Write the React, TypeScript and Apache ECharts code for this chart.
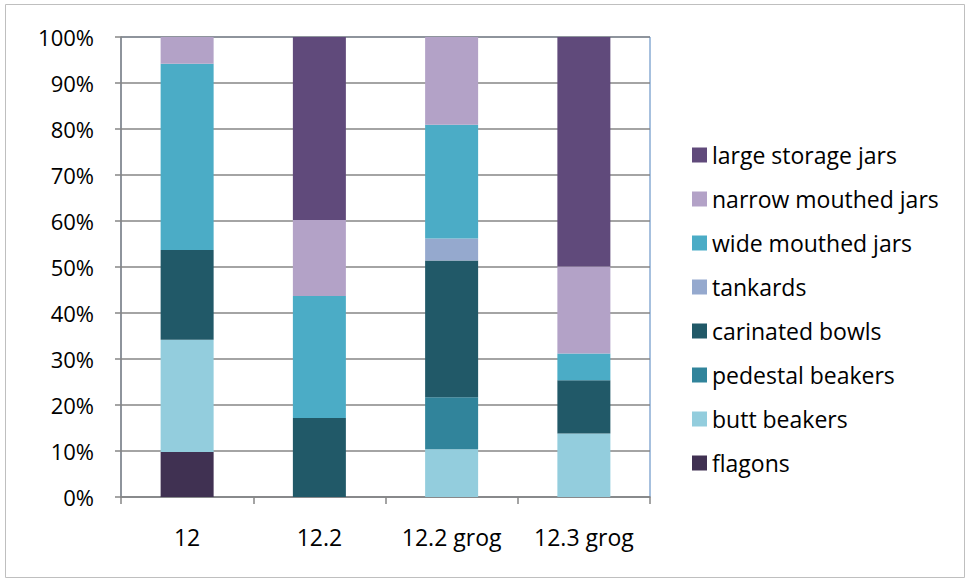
import React, { useEffect, useRef } from "react";
import * as echarts from "echarts";

const categories = ["12", "12.2", "12.2 grog", "12.3 grog"];
const seriesNames = [
  "flagons",
  "butt beakers",
  "pedestal beakers",
  "carinated bowls",
  "tankards",
  "wide mouthed jars",
  "narrow mouthed jars",
  "large storage jars",
];
const flagons = [9.8, 0, 0, 0];
const buttBeakers = [24.4, 0, 10.4, 13.8];
const pedestalBeakers = [0, 0, 11.3, 0];
const carinatedBowls = [19.5, 17.2, 29.7, 11.6];
const tankards = [0, 0, 4.8, 0];
const wideMouthedJars = [40.5, 26.5, 24.7, 5.8];
const narrowMouthedJars = [5.8, 16.5, 19.1, 18.9];
const largeStorageJars = [0, 39.8, 0, 49.9];
const colors = ["#403152", "#93CDDD", "#31849B", "#215968", "#95A9CE", "#4BACC6", "#B3A2C7", "#604A7B"];
const yTicks = [0, 10, 20, 30, 40, 50, 60, 70, 80, 90, 100];

export default function App() {
  const ref = useRef<HTMLDivElement>(null);
  useEffect(() => {
    if (!ref.current) return;
    const chart = echarts.init(ref.current, null, { renderer: "svg" });
    const values = [
      flagons,
      buttBeakers,
      pedestalBeakers,
      carinatedBowls,
      tankards,
      wideMouthedJars,
      narrowMouthedJars,
      largeStorageJars,
    ];
    const font = "'Open Sans', sans-serif";
    chart.setOption({
      animation: false,
      backgroundColor: "#fff",
      textStyle: { fontFamily: font },
      graphic: [
        {
          type: "rect",
          shape: { x: 5.5, y: 4.5, width: 959, height: 573 },
          style: { fill: "none", stroke: "#BFBFBF", lineWidth: 1 },
          silent: true,
        },
      ],
      grid: {
        left: 121,
        top: 37,
        width: 529,
        height: 460,
        show: true,
        borderColor: "#4F81BD",
        borderWidth: 1,
        containLabel: false,
      },
      legend: {
        orient: "vertical",
        left: 687,
        top: 136,
        itemWidth: 15,
        itemHeight: 15,
        itemGap: 16,
        icon: "rect",
        data: [...seriesNames].reverse(),
        textStyle: { fontSize: 23, color: "#000", fontFamily: font, padding: [0, 0, 0, 0], lineHeight: 28 },
      },
      xAxis: {
        type: "category",
        data: categories,
        axisLine: { show: true, lineStyle: { color: "#868686", width: 1.5 } },
        axisTick: { show: true, length: 7, lineStyle: { color: "#868686", width: 1.5 } },
        axisLabel: { fontSize: 23, color: "#000", margin: 28, fontFamily: font },
      },
      yAxis: {
        type: "value",
        min: 0,
        max: 100,
        interval: 10,
        axisLine: { show: true, lineStyle: { color: "#868686", width: 1.5 } },
        axisTick: { show: true, length: 6, lineStyle: { color: "#868686", width: 1.5 } },
        axisLabel: {
          fontSize: 22,
          color: "#000",
          margin: 27,
          fontFamily: font,
          formatter: (v: number) => (yTicks.includes(v) ? v + "%" : ""),
        },
        splitLine: { show: true, lineStyle: { color: "#868686", width: 1.5 } },
      },
      series: seriesNames.map((name, i) => ({
        name,
        type: "bar",
        stack: "total",
        barWidth: 53,
        data: values[i],
        itemStyle: { color: colors[i] },
      })),
    });
    return () => chart.dispose();
  }, []);
  return (
    <div
      ref={ref}
      style={{ position: "fixed", left: 0, top: 0, width: 970, height: 583 }}
    />
  );
}
